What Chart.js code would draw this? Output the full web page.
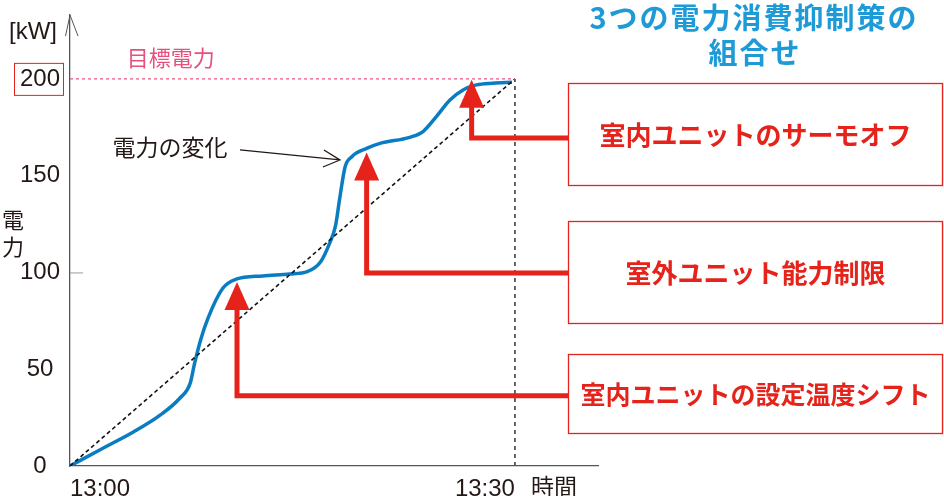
<!DOCTYPE html>
<html>
<head>
<meta charset="utf-8">
<script src="https://cdn.jsdelivr.net/npm/chart.js@4.4.1/dist/chart.umd.min.js"></script>
<style>
  html, body { margin: 0; padding: 0; background: #fff; }
  canvas { display: block; }
</style>
</head>
<body>
<canvas id="myChart" width="944" height="496"></canvas>
<script>
// power curve, minutes after 13:00 vs kW
const minutes = [0, 2.0, 4.3, 6.1, 7.4, 8.1, 8.4, 8.8, 9.3, 10.3, 11.2, 13.0, 14.8, 16.0,
                 16.9, 17.5, 17.9, 18.2, 18.55, 19.0, 20.0, 20.9, 22.9, 23.8,
                 24.7, 25.6, 26.5, 27.4, 28.5, 29.8];
const power = [0, 8.3, 17.7, 26.4, 35, 42.7, 53, 65, 76.3, 91.8, 96.5, 98.2, 99.2, 100.4,
               105.5, 115, 124, 139, 154.6, 159.8, 164.1, 166.7, 169.8, 172.8,
               180.5, 189, 194.3, 196.9, 197.8, 198.3];

const targetPower = 200;
const endMinute = 30;
const xTickValues = [0, 30];
const xTickLabels = ['13:00', '13:30'];
const yTickValues = [0, 50, 100, 150, 200];

// the three measures, with where each arrow points (minute, kW) and its elbow (kW)
const measures = ['室内ユニットのサーモオフ', '室外ユニット能力制限', '室内ユニットの設定温度シフト'];
const arrowMinute = [27.08, 20.0, 11.26];
const arrowTip = [199.5, 162, 95];
const arrowElbow = [169.5, 99.7, 36.3];

const RED = '#e5231b';
const BLUE = '#0a7dc2';
const PINK = '#e8507c';
const INK = '#231815';
const jp = '"Noto Sans CJK JP", sans-serif';
const latin = '"Liberation Sans", "Noto Sans CJK JP", sans-serif';

const curve = minutes.map((m, i) => ({x: m, y: power[i]}));

const decor = {
  id: 'decor',
  afterDatasetsDraw(chart) {
    const {ctx, scales: {x, y}} = chart;
    ctx.save();

    // little tick at 100
    ctx.strokeStyle = '#999';
    ctx.lineWidth = 1;
    ctx.beginPath();
    ctx.moveTo(x.left, y.getPixelForValue(100) + 0.5);
    ctx.lineTo(x.left + 13, y.getPixelForValue(100) + 0.5);
    ctx.stroke();

    // open arrow at the top of the y axis
    ctx.strokeStyle = '#555';
    ctx.lineWidth = 1;
    ctx.beginPath();
    ctx.moveTo(x.left - 4.5, y.top + 21);
    ctx.lineTo(x.left, y.top);
    ctx.lineTo(x.left + 8, y.top + 21);
    ctx.stroke();

    // red box round 200
    const p200 = y.getPixelForValue(targetPower);
    ctx.strokeStyle = RED;
    ctx.lineWidth = 1;
    ctx.strokeRect(14.5, p200 - 15.5, 49, 32);

    // texts
    ctx.fillStyle = INK;
    ctx.textBaseline = 'middle';
    ctx.font = '24px ' + latin;
    ctx.textAlign = 'left';
    ctx.fillText('[kW]', 9, 32);
    ctx.font = '22px ' + jp;
    ctx.textAlign = 'center';
    ctx.fillText('電', 13, 220);
    ctx.fillText('力', 13, 247);
    ctx.font = '23px ' + jp;
    ctx.textAlign = 'left';
    ctx.fillText('時間', 531, 486);

    ctx.fillStyle = PINK;
    ctx.font = '22px ' + jp;
    ctx.textAlign = 'center';
    ctx.fillText('目標電力', x.getPixelForValue(6.8), y.getPixelForValue(210.9));

    ctx.fillStyle = INK;
    ctx.font = '23px ' + jp;
    ctx.fillText('電力の変化', x.getPixelForValue(6.74), y.getPixelForValue(164.9));

    // pointer to the curve
    const ax0 = x.getPixelForValue(11.46), ay0 = y.getPixelForValue(163.3);
    const ax1 = x.getPixelForValue(18.2), ay1 = y.getPixelForValue(158.1);
    ctx.strokeStyle = INK;
    ctx.lineWidth = 1.3;
    ctx.beginPath();
    ctx.moveTo(ax0, ay0);
    ctx.lineTo(ax1, ay1);
    ctx.moveTo(ax1 - 16, ay1 - 10);
    ctx.lineTo(ax1, ay1);
    ctx.lineTo(ax1 - 17, ay1 + 7);
    ctx.stroke();

    // title
    ctx.fillStyle = '#1e9ad6';
    ctx.font = 'bold 29px ' + jp;
    ctx.textAlign = 'center';
    ctx.letterSpacing = '2px';
    ctx.fillText('3つの電力消費抑制策の', 754, 18);
    ctx.fillText('組合せ', 755, 53);
    ctx.letterSpacing = '0px';

    // boxes and arrows
    const boxes = [[83, 185], [221, 323], [354, 433]];
    const boxLeft = 568, boxRight = 943;
    measures.forEach((label, i) => {
      const [top, bottom] = boxes[i];
      ctx.fillStyle = '#fff';
      ctx.fillRect(boxLeft, top, boxRight - boxLeft, bottom - top);
      ctx.strokeStyle = RED;
      ctx.lineWidth = 1.3;
      ctx.strokeRect(boxLeft + 0.5, top + 0.5, boxRight - boxLeft - 1, bottom - top);
      ctx.fillStyle = RED;
      ctx.font = 'bold ' + (i === 2 ? 25 : 26) + 'px ' + jp;
      ctx.textAlign = 'center';
      ctx.fillText(label, (boxLeft + boxRight) / 2, (top + bottom) / 2 + 1);

      const px = x.getPixelForValue(arrowMinute[i]);
      const tip = y.getPixelForValue(arrowTip[i]);
      const elbow = y.getPixelForValue(arrowElbow[i]);
      ctx.strokeStyle = RED;
      ctx.lineWidth = 5;
      ctx.lineJoin = 'miter';
      ctx.beginPath();
      ctx.moveTo(boxLeft, elbow);
      ctx.lineTo(px, elbow);
      ctx.lineTo(px, tip + 26);
      ctx.stroke();
      ctx.beginPath();
      ctx.moveTo(px, tip);
      ctx.lineTo(px - 12.5, tip + 28);
      ctx.lineTo(px + 12.5, tip + 28);
      ctx.closePath();
      ctx.fill();
    });

    ctx.restore();
  }
};

new Chart(document.getElementById('myChart'), {
  type: 'line',
  data: {
    datasets: [{
      label: 'target',
      data: [{x: 0, y: targetPower}, {x: endMinute, y: targetPower}],
      borderColor: PINK,
      borderWidth: 1.2,
      borderDash: [3, 3],
      pointRadius: 0,
      fill: false
    }, {
      label: 'end',
      data: [{x: endMinute, y: 0}, {x: endMinute, y: targetPower}],
      borderColor: '#555',
      borderWidth: 1.8,
      borderDash: [4, 4],
      pointRadius: 0,
      fill: false
    }, {
      label: 'even',
      data: [{x: 0, y: 0}, {x: endMinute, y: targetPower}],
      borderColor: '#111',
      borderWidth: 1.6,
      borderDash: [4, 3],
      pointRadius: 0,
      fill: false
    }, {
      label: 'power',
      data: curve,
      borderColor: BLUE,
      borderWidth: 3.5,
      cubicInterpolationMode: 'monotone',
      pointRadius: 0,
      fill: false
    }]
  },
  options: {
    responsive: false,
    animation: false,
    layout: {padding: {top: 15, right: 346, left: 0, bottom: 0}},
    plugins: {
      legend: {display: false},
      tooltip: {enabled: false}
    },
    scales: {
      x: {
        type: 'linear',
        min: 0,
        max: 35.6,
        grid: {display: false},
        border: {color: '#555', width: 1.3},
        afterBuildTicks: s => { s.ticks = xTickValues.map(v => ({value: v})); },
        afterFit: s => { s.height = 30; s.paddingLeft = 0; s.paddingRight = 0; },
        ticks: {
          align: 'inner',
          padding: 1,
          color: INK,
          font: {family: latin, size: 24},
          callback: v => xTickLabels[xTickValues.indexOf(v)]
        }
      },
      y: {
        min: 0,
        max: 233,
        grid: {display: false},
        border: {color: '#555', width: 1.3},
        afterBuildTicks: s => { s.ticks = yTickValues.map(v => ({value: v})); },
        afterFit: s => { s.width = 70; s.paddingTop = 0; s.paddingBottom = 0; },
        ticks: {
          crossAlign: 'center',
          padding: 2,
          color: INK,
          font: {family: latin, size: 24}
        }
      }
    }
  },
  plugins: [decor]
});
</script>
</body>
</html>
